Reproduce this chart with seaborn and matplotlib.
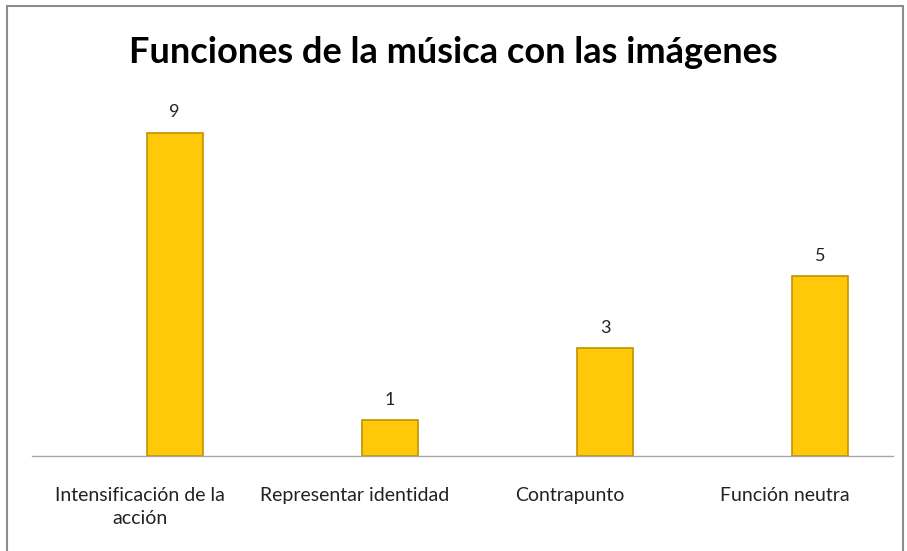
import matplotlib
matplotlib.use("Agg")
import matplotlib.pyplot as plt
import seaborn as sns
import pandas as pd
from matplotlib.patches import Rectangle

# chart data
categories = ["Intensificación de la\nacción", "Representar identidad", "Contrapunto", "Función neutra"]
values = [9, 1, 3, 5]
title = "Funciones de la música con las imágenes"

sns.set_style("white")
plt.rcParams['font.family'] = ['Lato', 'DejaVu Sans']

df = pd.DataFrame({"categoria": categories, "valor": values})

fig = plt.figure(figsize=(9.07, 5.51), dpi=100)
ax = fig.add_axes([0.0353, 0.1724, 0.949, 0.652])

sns.barplot(data=df, x="categoria", y="valor", ax=ax, color="#FFC90A",
            width=0.26, edgecolor="#C09400", linewidth=1.2, saturation=1)

# bars sit a bit right of the category label, like the original Excel chart
shift = 0.163
for bar in ax.patches:
    bar.set_x(bar.get_x() + shift)

# value labels on top of bars
for bar, v in zip(ax.patches, values):
    ax.text(bar.get_x() + bar.get_width() / 2, bar.get_height() + 0.35, str(v),
            ha="center", va="bottom", fontsize=13, color="#222222")

ax.set_ylim(0, 10)
ax.set_xlim(-0.5, 3.5)
ax.set_xlabel("")
ax.set_ylabel("")
ax.set_yticks([])
ax.tick_params(axis="x", length=0, pad=22, labelsize=14, labelcolor="#222222")
for lbl in ax.get_xticklabels():
    lbl.set_linespacing(1.45)
for s in ["top", "right", "left"]:
    ax.spines[s].set_visible(False)
ax.spines["bottom"].set_color("#A6A6A6")
ax.spines["bottom"].set_linewidth(1)

fig.text(0.5, 0.905, title, ha="center", va="center", fontsize=26, fontweight="bold", color="black")

# chart border
fig.patches.append(Rectangle((0.008, -0.01), 0.988, 1.0, transform=fig.transFigure,
                             fill=False, edgecolor="#8C8C8C", linewidth=1.5))

fig.savefig("out.png", dpi=100)
